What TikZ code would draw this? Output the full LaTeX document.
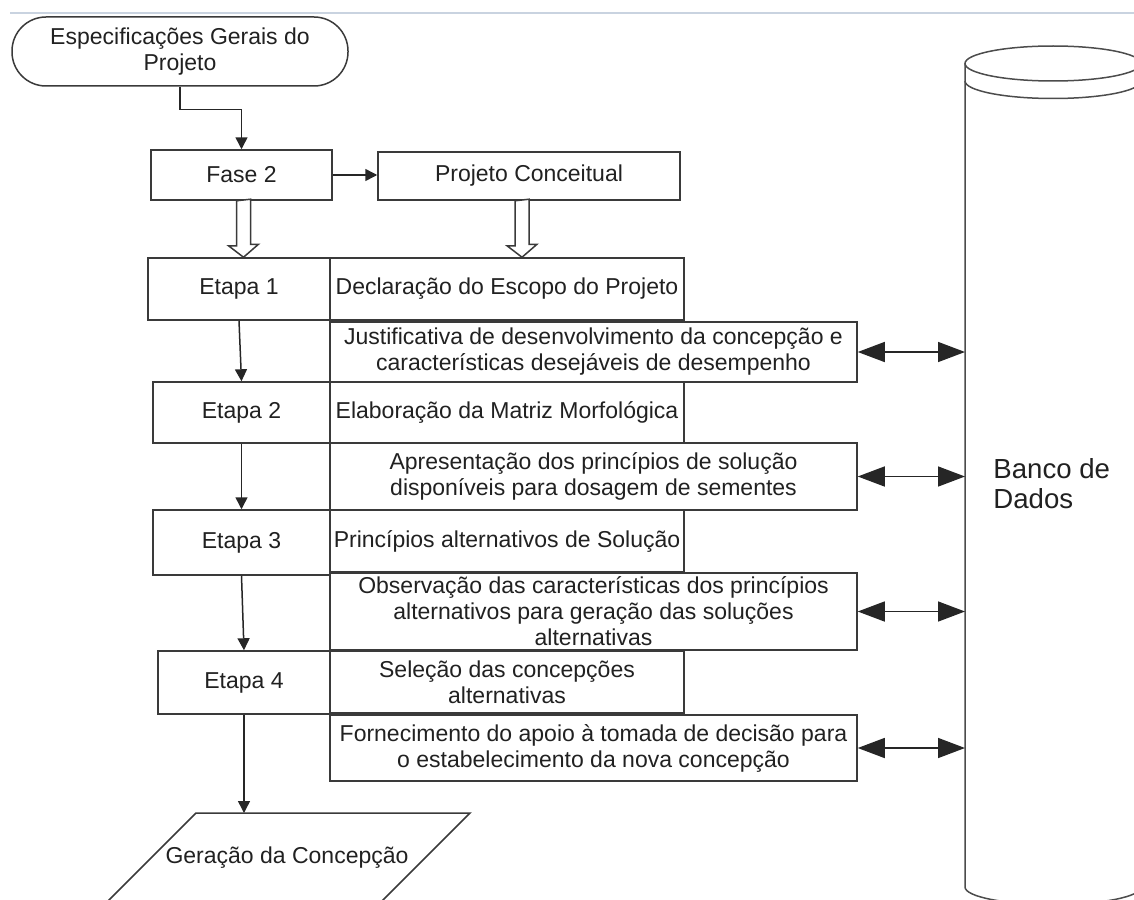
\documentclass[tikz,border=0pt]{standalone}
\usepackage{fontspec}
\setmainfont{Liberation Sans}
\usetikzlibrary{arrows.meta, calc}

\definecolor{linegray}{HTML}{3A3A3A}
\definecolor{pageline}{HTML}{C9D3E0}
\newcommand{\boxfont}{\fontsize{11.5}{13}\selectfont}
\newcommand{\dbfont}{\fontsize{13.8}{15}\selectfont}

\begin{document}
\begin{tikzpicture}[x=0.5pt, y=-0.5pt,
	box/.style={draw=linegray, line width=0.75pt, fill=white, inner sep=0pt, align=center, font=\boxfont, text=black!87},
	flow/.style={draw=black!85, line width=0.75pt, -{Triangle[length=6pt, width=6pt]}},
	link/.style={draw=black!85, line width=0.75pt, {Triangle[length=13.5pt, width=10pt]}-{Triangle[length=13.5pt, width=10pt]}},
	hollow/.style={draw=linegray, line width=0.75pt, fill=white},
	wall/.style={draw=black!70, line width=0.75pt}]
	\useasboundingbox (0,0) rectangle (1134,899);
	\clip (0,0) rectangle (1134,899);
	\draw[pageline, line width=0.7pt] (10,13) -- (1134,13);

	\node [box, rounded corners=17pt, minimum width=168pt, minimum height=34.5pt]	(spec)	at (180,51.5)	{Especificações Gerais do\\Projeto};
	\node [box, minimum width=90.5pt, minimum height=25pt]	(fase)	at (241.5,175)	{Fase 2};
	\node [box, minimum width=151pt, minimum height=24pt]		(conc)	at (529,176)	{Projeto Conceitual};

	\node [box, minimum width=91pt, minimum height=31pt]		(e1)	at (239,289)	{Etapa 1};
	\node [box, minimum width=177pt, minimum height=31pt]		(decl)	at (507,289)	{Declaração do Escopo do Projeto};
	\node [box, minimum width=263.5pt, minimum height=30pt]	(just)	at (593.5,352)	{Justificativa de desenvolvimento da concepção e\\características desejáveis de desempenho};

	\node [box, minimum width=88.5pt, minimum height=30.5pt]	(e2)	at (241.5,412.5)	{Etapa 2};
	\node [box, minimum width=177pt, minimum height=30.5pt]	(elab)	at (507,412.5)	{Elaboração da Matriz Morfológica};
	\node [box, minimum width=263.5pt, minimum height=33.5pt]	(apres)	at (593.5,476.5)	{Apresentação dos princípios de solução\\disponíveis para dosagem de sementes};

	\node [box, minimum width=88.5pt, minimum height=32.5pt]	(e3)	at (241.5,542.5)	{Etapa 3};
	\node [box, minimum width=177pt, minimum height=31pt]		(princ)	at (507,541)	{Princípios alternativos de Solução};
	\node [box, minimum width=263.5pt, minimum height=38.5pt]	(obs)	at (593.5,611.5)	{Observação das características dos princípios\\alternativos para geração das soluções\\alternativas};

	\node [box, minimum width=86pt, minimum height=31.5pt]		(e4)	at (244,682.5)	{Etapa 4};
	\node [box, minimum width=177pt, minimum height=31pt]		(sel)	at (507,682)	{Seleção das concepções\\alternativas};
	\node [box, minimum width=263.5pt, minimum height=33pt]	(forn)	at (593.5,748)	{Fornecimento do apoio à tomada de decisão para\\o estabelecimento da nova concepção};

	\draw [box] (196,813) -- (470,813) -- (380,903) -- (106,903) -- cycle;
	\coordinate (gentop) at (244,813);
	\node [font=\boxfont, text=black!87, inner sep=0pt]	(gen)	at (287,858)	{Geração da Concepção};

	\draw [wall] (1053,63.5) ellipse [x radius=88, y radius=17.5];
	\draw [wall] (965,81) arc [start angle=180, end angle=0, x radius=88, y radius=17.5];
	\draw [wall] (965,63.5) -- (965,887) arc [start angle=180, end angle=0, x radius=88, y radius=17.5] -- (1141,63.5);
	\coordinate (db) at (965,480);
	\node [font=\dbfont, text=black!87, align=left, anchor=west, inner sep=0pt]	(dbtxt)	at (993,484)	{Banco de\\Dados};

	\draw [flow] (spec.south) -- ++(0,23) -| (fase.north);
	\draw [flow] (fase.east) -- (fase.east -| conc.west);
	\draw [flow] (e1.south) -- (e2.north);
	\draw [flow] (e2.south) -- (e3.north);
	\draw [flow] (e3.south) -- (e4.north);
	\draw [flow] (e4.south) -- (gentop);

	\draw [hollow] ($(fase.south)+(-5,0)$) -- ++(0,45) -- ++(-8,0) -- ($(fase.south |- e1.north)+(2,0)$) -- ++(15,-13) -- ++(-8,0) -- ++(0,-45) -- cycle;
	\draw [hollow] ($(conc.south)+(-14,0)$) -- ++(0,45) -- ++(-8,0) -- ($(conc.south |- decl.north)+(-7,0)$) -- ++(15,-13) -- ++(-8,0) -- ++(0,-45) -- cycle;

	\draw [link] (just.east) -- (just.east -| db);
	\draw [link] (apres.east) -- (apres.east -| db);
	\draw [link] (obs.east) -- (obs.east -| db);
	\draw [link] (forn.east) -- (forn.east -| db);
\end{tikzpicture}
\end{document}
